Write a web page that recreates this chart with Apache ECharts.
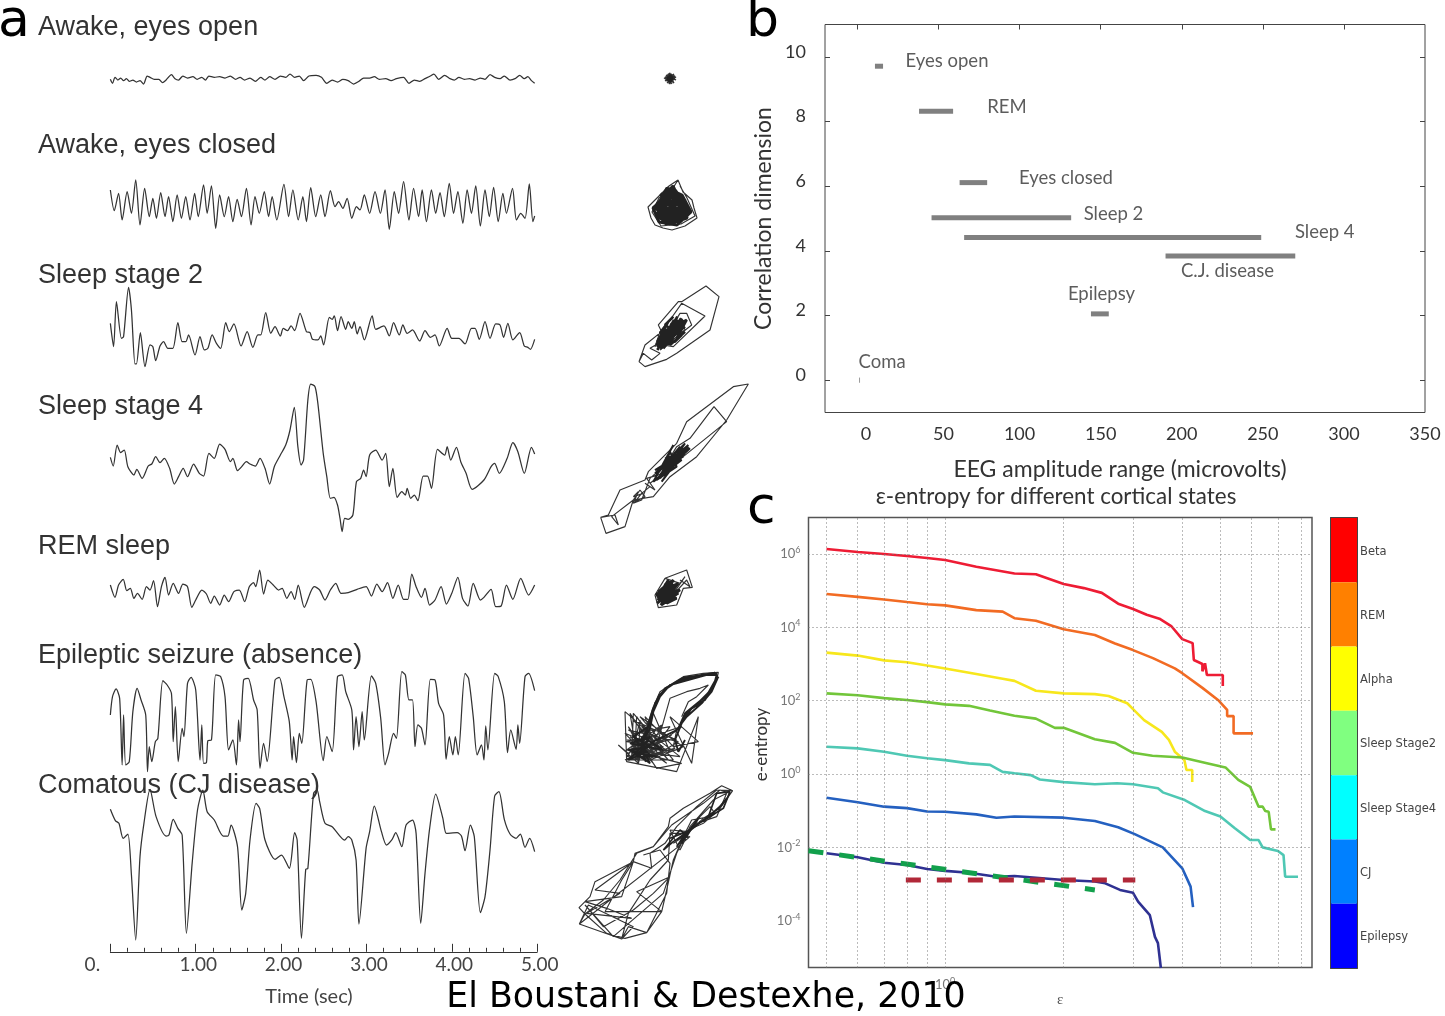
<!DOCTYPE html>
<html><head><meta charset="utf-8">
<style>html,body{margin:0;padding:0;background:#fff}#c{width:1445px;height:1016px}</style>
<script src="https://cdn.jsdelivr.net/npm/echarts@6/dist/echarts.min.js"></script>
</head><body><div id="c"></div>
<script>
// ---------- Panel a: EEG traces, flat lists of sample, amplitude (arbitrary units) ----------
const eyesOpenTrace=[309,238,315,250,322,232,330,240,338,234,346,242,354,236,362,244,372,240,382,246,392,242,402,252,412,228,420,232,432,238,445,238,455,248,465,240,480,224,490,236,500,240,512,228,525,234,540,230,552,238,565,232,575,240,585,228,600,232,615,230,630,234,645,228,660,238,672,232,685,240,700,234,715,244,730,232,742,240,755,230,770,238,785,228,800,232,812,222,825,232,838,228,850,242,865,228,885,226,900,232,915,250,930,240,945,246,960,238,975,242,990,252,1005,244,1018,234,1035,234,1048,230,1062,238,1080,236,1095,242,1110,236,1130,232,1145,250,1160,240,1175,244,1190,236,1205,228,1215,222,1228,238,1245,226,1260,236,1272,240,1285,232,1300,238,1315,236,1330,240,1345,234,1358,238,1372,224,1385,232,1400,236,1412,228,1428,240,1442,236,1455,226,1468,236,1478,230,1488,242,1497,250];
const eyesClosedTrace=[309,570,320,632,332,580,342,660,356,575,368,640,380,540,392,675,405,565,418,650,428,595,438,655,450,578,462,650,472,590,484,665,496,585,508,655,520,590,532,660,545,580,555,650,570,555,580,640,592,558,604,685,615,585,628,650,640,590,652,665,664,598,676,650,690,565,703,675,714,590,726,640,740,575,752,650,762,590,775,660,795,553,808,650,820,570,835,660,848,590,858,665,870,563,884,650,898,585,910,650,925,572,938,620,948,605,960,625,972,595,985,655,998,620,1008,630,1020,585,1035,640,1050,575,1065,640,1078,570,1090,688,1104,575,1116,640,1130,545,1145,660,1158,565,1172,650,1182,570,1194,665,1208,570,1220,640,1232,578,1244,650,1258,550,1270,640,1282,575,1296,670,1308,570,1320,640,1332,558,1345,678,1358,570,1370,650,1382,562,1395,665,1408,580,1418,640,1435,565,1446,660,1458,640,1470,655,1482,552,1492,665,1497,648];
const sleep2Trace=[309,190,318,260,326,125,340,235,346,230,360,82,368,150,378,312,382,312,393,218,406,320,420,255,428,260,436,302,448,258,458,245,470,265,484,265,498,188,510,245,520,245,528,225,546,285,560,230,572,270,582,265,594,225,606,250,618,265,632,188,642,215,655,192,675,258,692,215,708,262,722,225,730,225,744,158,758,220,770,200,785,228,793,205,805,212,815,198,825,212,840,160,858,215,868,218,875,238,890,240,898,228,906,255,922,172,930,178,936,168,945,212,955,170,968,208,975,185,985,205,992,185,1000,222,1008,200,1020,240,1042,168,1052,208,1075,198,1090,228,1102,188,1118,225,1128,195,1140,220,1155,210,1175,243,1190,212,1205,232,1218,225,1230,258,1252,205,1265,235,1285,235,1302,252,1320,205,1330,205,1342,238,1358,185,1372,235,1388,192,1400,195,1410,232,1422,190,1436,240,1455,218,1468,258,1478,262,1485,268,1497,238];
const sleep4Trace=[309,592,317,618,328,555,338,578,348,570,358,620,375,645,383,628,398,655,415,618,425,612,436,590,448,608,460,595,475,625,488,672,500,650,513,625,525,650,542,612,558,640,570,648,585,580,600,595,615,552,630,568,645,605,652,595,665,632,675,622,690,605,700,612,715,618,728,595,742,625,755,672,768,620,785,585,800,555,812,510,824,442,834,560,843,615,850,600,862,420,870,372,882,380,890,430,905,580,915,650,925,715,935,712,945,735,952,775,958,815,965,775,975,778,988,765,998,665,1010,655,1018,630,1025,650,1035,585,1052,570,1070,600,1080,580,1090,680,1100,625,1112,712,1125,695,1135,705,1140,685,1150,715,1160,705,1170,722,1185,648,1197,648,1208,685,1225,568,1245,585,1252,560,1262,600,1278,562,1290,605,1305,640,1322,688,1355,660,1375,620,1385,610,1398,640,1420,595,1436,548,1450,575,1468,640,1488,562,1497,582];
const remTrace=[309,195,322,232,332,195,345,178,355,212,365,205,375,235,385,220,398,238,410,200,420,210,430,182,441,260,452,200,462,172,472,225,485,190,500,220,512,192,525,200,537,262,548,240,565,210,578,222,590,250,600,228,615,255,628,225,640,245,655,215,670,210,685,245,698,200,710,188,716,200,727,150,738,222,750,180,765,195,780,210,790,205,803,235,815,215,825,238,835,195,852,262,870,215,880,200,895,210,910,240,925,210,940,190,955,220,975,218,1000,208,1025,200,1040,228,1055,192,1070,215,1085,188,1100,235,1115,195,1130,238,1142,238,1153,162,1165,200,1180,232,1190,205,1203,255,1218,240,1235,200,1250,252,1265,220,1282,172,1295,235,1310,258,1325,190,1345,240,1355,232,1375,208,1388,260,1403,258,1418,195,1436,238,1458,175,1480,225,1497,195];
const epilepsyTrace=[309,585,315,530,325,507,335,535,342,735,346,585,352,735,362,725,372,575,384,505,395,540,408,585,413,755,418,680,425,725,435,665,442,655,456,482,468,495,480,520,485,665,491,560,499,725,510,625,515,650,525,490,535,472,548,510,560,720,565,615,570,730,578,728,582,662,592,660,604,465,618,470,630,530,640,690,652,660,662,735,668,600,672,665,682,480,695,475,710,540,720,570,728,745,738,670,748,725,770,480,782,472,795,530,810,605,818,720,822,650,830,728,838,640,845,670,860,480,870,478,885,545,905,722,915,650,930,695,945,470,958,465,968,515,985,570,990,690,997,590,1005,680,1014,575,1020,660,1040,468,1052,490,1066,595,1078,735,1088,700,1102,640,1110,655,1125,455,1135,465,1145,540,1155,540,1162,680,1170,615,1180,625,1190,675,1205,478,1218,480,1228,550,1242,585,1249,718,1258,650,1268,705,1275,650,1283,705,1302,460,1312,475,1325,590,1336,705,1348,675,1355,720,1360,618,1366,690,1385,460,1395,470,1412,545,1421,698,1430,630,1445,688,1450,615,1455,670,1470,470,1480,460,1497,512];
const comaTrace=[309,148,323,182,333,190,345,235,358,222,368,345,380,540,392,290,403,190,420,88,437,170,465,228,473,225,485,178,498,205,510,225,522,520,538,310,553,150,568,90,580,155,600,180,625,228,638,228,647,195,665,260,677,450,688,400,700,240,717,130,727,145,742,240,770,298,788,285,810,325,825,218,832,240,844,535,856,328,862,325,878,100,888,90,895,125,910,190,930,200,965,240,975,230,985,240,997,300,1005,492,1025,265,1035,215,1048,138,1068,215,1082,255,1098,238,1108,218,1125,260,1137,195,1155,180,1165,220,1178,490,1190,340,1203,205,1220,102,1240,175,1250,220,1280,218,1292,228,1302,272,1317,195,1328,230,1345,458,1358,410,1372,270,1385,108,1397,95,1412,178,1428,222,1445,235,1457,222,1470,262,1483,235,1497,275];
const traceTitles=['Awake, eyes open','Awake, eyes closed','Sleep stage 2','Sleep stage 4','REM sleep','Epileptic seizure (absence)','Comatous (CJ disease)'];

// ---------- Panel a: phase portraits, flat lists of x, y (outer loops, then dense cores) ----------
const eyesOpenPhase=[3,6,9,2,6,10,11,5,4,9,8,3,12,7,5,4,10,10,2,7,7,1,9,9,3,3,11,8,6,5,13,5,4,11,8,7,2,5,10,3,7,12,5,2,12,4,3,9,9,6,6,1,11,11,4,6,8,10,1,6,10,6,5,8,7,4,13,8,3,5,9,12,6,7,11,2,2,9,8,5,4,3,10,8,5,10,12,6,3,7,8,2,6,12,11,4,4,8,9,4,7,9,5,6];
const eyesOpenCore=[4,5,9,8,5,9,10,5,6,4,8,10,4,7,10,7,7,3,6,9,9,4,5,6];
const eyesClosedPhase=[31,0,22,6,18,10,8,20,1,27,4,38,8,45,16,48,25,50,38,46,50,38,47,28,45,20,36,12,31,0,26,8,12,18,5,32,14,46,34,44,48,36,40,18,33,6];
const eyesClosedCore=[8,30,20,8,35,15,44,32,30,45,12,42,6,28,22,14,38,20,40,38,22,44,10,36,14,20,28,10,40,26,34,40,16,40,12,28,24,12,36,28,28,40,14,34,18,18,32,16,42,34,24,38,10,24,26,6,38,32,18,44,16,26,30,12,34,34,20,36,14,14,36,22,26,42,12,36,20,12,40,30,30,36,10,30,24,10,38,38,16,36,18,22,30,28,20,32,34,20,18,30,32,32,20,20,34,26,26,34,18,26,30,18,22,32,34,30,20,24];
const sleep2Phase=[207,275,225,290,290,268,320,250,420,180,447,80,408,48,335,95,325,95,265,165,275,185,225,225,207,275,220,250,245,270,270,250,240,235,262,222,310,230,405,138,335,100,300,150,270,185,255,230,290,165,300,220,330,145,345,180,280,215,320,155,270,240,365,165,350,130,330,130,305,170];
const sleep2Core=[262,232,325,150,280,222,340,160,268,210,318,175,295,225,335,145,272,236,305,160,290,212,345,170,258,225,310,195,330,165,285,200,322,140,275,228,300,175,340,150,265,218,315,185,290,190,328,155,280,235,305,205,335,175,270,205,320,165,295,180,262,240,312,150,285,215,342,158,275,195,325,180,300,200,268,228,330,150,300,225,345,185,320,205,350,150,270,190,295,155,262,215,315,215,335,195,285,165,310,140];
const sleep4Phase=[92,742,108,790,165,770,185,705,190,690,250,680,300,620,380,560,470,450,535,342,490,350,350,455,320,520,235,605,225,630,150,660,115,735,92,742,135,735,145,765,125,740,190,690,210,660,225,680,195,695,215,670,240,650,225,640,255,660,230,625,280,610,240,640,470,455,432,410,360,505,320,530,290,580,240,625,215,690,190,700,205,665,190,680,220,670];
const sleep4Core=[255,620,330,530,270,615,355,525,265,600,345,520,280,610,360,535,255,600,340,560,275,590,310,525,250,635,335,570,290,575,350,540,260,630,320,590,300,545,270,625,345,550,285,565,315,560,255,610,330,545,300,600,275,635,355,530,290,590];
const remPhase=[285,55,350,30,367,82,340,85,320,135,265,143,255,105,285,55,330,70,345,50,300,115,350,60,360,80,330,60];
const remCore=[262,120,320,75,272,135,330,90,258,105,310,60,280,125,325,100,265,95,300,65,290,130,320,115,270,110,315,85,262,130,300,80,285,70,310,120,275,90,325,70,290,115,268,125,305,100,280,85,318,105,275,135,295,60,262,112,312,95];
const epilepsyPhase=[230,500,250,440,270,395,300,375,340,350,400,340,445,337,440,360,420,400,390,430,360,450,340,480,320,510,310,560,385,545,300,470,365,610,385,470,320,635,170,605,165,455,240,520,175,580,145,555,205,610,180,460,235,545,170,540,320,540,190,480,295,600,215,500,330,590,170,570,260,505,200,600,250,460,300,575,175,510,325,545,225,605,275,495,185,560,305,525,165,600,240,570,335,500,210,540,290,610,180,530,265,590,225,470,315,565,195,595,245,530,170,545,280,560,215,580,335,610,260,625,190,520,300,500,230,590,175,600,270,540,210,470,340,560,240,600,172,540,300,540,172,570,320,570,172,600,310,600,190,460,185,590,210,480,205,610,235,500,228,600,175,500,250,610,165,520,260,560,200,470,195,560,225,520,170,590,255,575,300,415,350,395,390,385,415,375,380,410,355,425,335,470];
const epilepsyCore=[228,520,248,450,268,405,298,378,342,352,438,340,442,350,415,398,385,428,355,452,338,485,325,505,345,460,400,415,430,380,440,345,395,345,335,358,285,385,262,420,238,490,222,530,210,560,240,505,255,430,280,392,325,362,380,348,435,338,300,375,270,410,250,455,235,500,190,530,240,560,175,570,260,590,200,590,240,530,180,550,280,570,215,530,225,600,185,575,245,590,195,540,230,575,175,600,215,560,240,610,205,585,250,545,320,510,350,470,395,430,425,395,445,350,405,420,365,445,335,490,315,540,325,575,345,540];
const comaPhase=[488,692,455,677,420,700,340,745,300,775,295,800,250,860,195,880,190,905,75,965,60,1010,27,1043,45,1062,28,1092,155,1137,175,1100,230,1118,275,1055,290,990,310,900,340,830,400,775,450,745,488,692,440,690,380,740,320,800,285,850,240,880,245,925,190,905,155,1010,45,1025,110,1045,185,1075,50,1060,150,1000,75,990,190,905,155,960,105,1055,275,1055,200,995,300,950,250,1000,190,1050,100,1100,45,1035,130,1130,280,1000,320,880,360,800,430,720,470,700,440,770,380,790,340,830,310,850,355,815,300,810,330,870,350,830,390,770,420,740,435,760,400,790,355,810,320,840,360,830,325,860,28,1092,55,1035,190,1100,155,1137,175,1060,240,960,295,900,300,820,345,820,365,780,420,770,460,730,480,700,450,690,400,730,305,795,250,860,200,880,150,960,100,1020,45,1062,110,1120,165,1135,230,1118,290,1000,300,910,270,870,220,885];
const comaCore=[300,835,350,815,320,860,365,800,335,850,385,775,350,820,425,760,445,745,470,715,455,735,415,770,440,700,480,695,460,745,395,785,340,825,310,845,280,870,330,810,355,830];

// ---------- Panel b ----------
const rangeNames=['Eyes open','REM','Eyes closed','Sleep 2','Sleep 4','C.J. disease','Epilepsy'];
const rangeLow=[10.8,38,63,45.7,65.8,190,144];
const rangeHigh=[15.8,59,80,131.8,249,270,155];
const rangeDim=[9.71,8.32,6.11,5.02,4.41,3.84,2.05];
const comaMark=[[1.3,-0.08],[1.3,0.08]];
const noteNames=['Eyes open','REM','Eyes closed','Sleep 2','Sleep 4','C.J. disease','Epilepsy','Coma'];
const noteX=[29.3,79.7,99.3,139.2,269.5,199.2,129.5,0.4];
const noteY=[9.86,8.46,6.26,5.15,4.58,3.37,2.66,0.57];
const bXTicks=[0,50,100,150,200,250,300,350];
const bYTicks=[0,2,4,6,8,10];

// ---------- Panel c: eps, log10(entropy) ----------
const betaEps=[.5,.6,.7,.8,.9,1,1.2,1.5,1.7,2,2.25,2.5,2.75,3,3.25,3.5,3.75,4,4.25,4.28,4.5,4.5,4.57,4.62,5.07,5.07];
const betaLog=[6.136,6.055,6,5.945,5.89,5.836,5.654,5.47,5.45,5.18,5.07,4.94,4.645,4.5,4.345,4.236,4.036,3.68,3.57,3.11,3,2.8,3.02,2.7,2.7,2.4];
const remEps=[.5,.6,.7,.8,.9,1,1.2,1.4,1.5,1.7,2,2.4,2.7,3,3.37,3.83,4,4.5,4.93,5.2,5.2,5.4,5.4,6.05];
const remLog=[4.91,4.83,4.76,4.69,4.63,4.6,4.47,4.43,4.25,4.18,3.95,3.79,3.56,3.38,3.16,2.88,2.75,2.35,2.02,1.75,1.58,1.58,1.11,1.11];
const alphaEps=[.5,.6,.7,.8,.9,1,1.2,1.4,1.5,1.7,2,2.4,2.6,2.9,3,3.2,3.55,3.7,3.83,4.05,4.1,4.24,4.24];
const alphaLog=[3.31,3.23,3.1,3.05,2.96,2.88,2.73,2.6,2.54,2.27,2.2,2.18,2.13,1.93,1.77,1.47,1.15,.93,.61,.38,.11,.11,-.22];
const stage2Eps=[.5,.6,.7,.8,.9,1,1.15,1.3,1.5,1.7,1.9,2,2.4,2.7,3,3.36,4,4.65,5.15,5.55,5.95,6.25,6.4,6.5,6.63,6.72,6.9];
const stage2Log=[2.2,2.15,2.07,2.02,1.96,1.9,1.86,1.73,1.59,1.51,1.26,1.26,.95,.85,.58,.5,.45,.29,.18,-.16,-.35,-.89,-.89,-1.01,-1.03,-1.51,-1.51];
const stage4Eps=[.5,.6,.7,.8,.9,1,1.15,1.3,1.4,1.5,1.65,1.74,2,2.4,2.73,3,3.47,3.57,4.06,4.57,5,5.44,5.95,6.25,6.4,7,7.23,7.3,7.87];
const stage4Log=[.745,.7,.61,.5,.43,.38,.29,.25,.06,.02,-.03,-.15,-.22,-.28,-.25,-.28,-.39,-.5,-.71,-1.01,-1.16,-1.48,-1.8,-1.8,-2,-2.1,-2.21,-2.8,-2.8];
const cjEps=[.5,.6,.7,.8,.9,1,1.2,1.35,1.5,2,2.4,2.75,3.03,3.57,4,4.2,4.26];
const cjLog=[-.645,-.77,-.89,-.93,-1.02,-1.03,-1.1,-1.19,-1.16,-1.19,-1.28,-1.45,-1.64,-2,-2.57,-3.07,-3.63];
const epiEps=[.5,.6,.7,.8,.9,1,1.15,1.35,1.5,2,2.4,2.55,2.78,3,3.09,3.31,3.41,3.47,3.53];
const epiLog=[-2.16,-2.27,-2.42,-2.48,-2.59,-2.64,-2.69,-2.8,-2.78,-2.89,-2.93,-2.98,-3.16,-3.24,-3.48,-3.85,-4.44,-4.61,-5.29];
const greenFitEps=[.45,2.4];
const greenFitLog=[-2.09,-3.16];
const redFitEps=[.795,3.04];
const redFitLog=[-2.89,-2.89];
const xGridValues=[.5,.6,.7,.8,.9,1,2,3,4,5,6,7,8];
const yGridValues=[1e-4,1e-2,1,1e2,1e4,1e6];
const stateNames=['Beta','REM','Alpha','Sleep Stage2','Sleep Stage4','CJ','Epilepsy'];
const stateColors=['#ff0000','#ff8000','#ffff00','#80ff80','#00ffff','#0080ff','#0000ff'];

// ---------- helpers ----------
const pairs=f=>{const o=[];for(let i=0;i<f.length;i+=2)o.push([f[i],f[i+1]]);return o;};
const grids=[],xAxes=[],yAxes=[],series=[];
const GF="Lato, 'Open Sans', sans-serif";
function addTrace(flat,top,height,yMin,yMax,xExtra){
  const g=grids.length;
  grids.push({left:110.36,width:426.8,top,height});
  xAxes.push(Object.assign({gridIndex:g,type:'value',min:0,max:5,show:false},xExtra||{}));
  yAxes.push({gridIndex:g,type:'value',min:yMin,max:yMax,inverse:true,show:false});
  series.push({type:'line',xAxisIndex:g,yAxisIndex:g,symbol:'none',clip:false,smooth:0.25,
    lineStyle:{color:'#333',width:1.25},data:pairs(flat).map(p=>[(p[0]-309)/239,p[1]])});
}
function addPhase(flat,core,coreWidth,left,top,width,height,x0,x1,y0,y1){
  const g=grids.length;
  grids.push({left,top,width,height});
  xAxes.push({gridIndex:g,type:'value',min:x0,max:x1,show:false});
  yAxes.push({gridIndex:g,type:'value',min:y0,max:y1,inverse:true,show:false});
  series.push({type:'line',xAxisIndex:g,yAxisIndex:g,symbol:'none',clip:false,
    lineStyle:{color:'#333',width:1.15},data:pairs(flat)});
  series.push({type:'line',xAxisIndex:g,yAxisIndex:g,symbol:'none',clip:false,
    lineStyle:{color:'#222',width:coreWidth},data:pairs(core)});
}
addTrace(eyesOpenTrace,66.67,23.33,200,270);
addTrace(eyesClosedTrace,173.33,60,520,700);
addTrace(sleep2Trace,280,93.33,60,340);
addTrace(sleep4Trace,376.67,160,350,830);
addTrace(remTrace,566.67,43.33,140,270);
addTrace(epilepsyTrace,668.33,106.67,445,765);
addTrace(comaTrace,760,191.8,0,575.4,{show:true,position:'bottom',interval:1,
  axisLine:{show:true,onZero:false,lineStyle:{color:'#333',width:1}},
  axisTick:{show:true,inside:true,length:8,lineStyle:{color:'#333'}},
  minorTick:{show:true,splitNumber:5,length:4,lineStyle:{color:'#333'}},
  splitLine:{show:false},
  axisLabel:{margin:4,color:'#444',fontFamily:GF,fontSize:19,showMinLabel:true,showMaxLabel:true,
    formatter:v=>v===0?'{z|0.}':'{t|'+v.toFixed(2)+'}',
    rich:{z:{color:'#444',fontFamily:GF,fontSize:19,padding:[0,36,0,0]},t:{color:'#444',fontFamily:GF,fontSize:19,padding:[0,0,0,5]}}}});
addPhase(eyesOpenPhase,eyesOpenCore,1.6,663,72,14,14,0,14,0,14);
addPhase(eyesClosedPhase,eyesClosedCore,3,647,180,52,51,0,52,0,51);
addPhase(sleep2Phase,sleep2Core,2.6,636.67,283.33,85,86.67,200,455,40,300);
addPhase(sleep4Phase,sleep4Core,2,598.33,381.67,151.67,153.33,85,540,335,795);
addPhase(remPhase,remCore,2.6,651.67,566.67,42.33,43.33,245,372,20,150);
addPhase(epilepsyPhase,epilepsyCore,1.9,616.67,670,103.33,103.33,140,450,330,640);
addPhase(comaPhase,comaCore,1.7,576.67,783.33,158.33,156.67,20,495,670,1140);

// Panel b
const gb=grids.length;
grids.push({left:825,width:600,top:24.5,height:388,show:true,borderColor:'#444',borderWidth:1,backgroundColor:'transparent'});
const bXBase={gridIndex:gb,type:'value',min:-20,max:350,interval:50};
const ticksIn={show:true,inside:true,length:5,lineStyle:{color:'#444'}};
const hiddenLine={show:false,onZero:false};
xAxes.push(Object.assign({},bXBase,{position:'bottom',
  axisLine:hiddenLine,axisTick:{show:false},splitLine:{show:false},
  axisLabel:{show:true,margin:13,color:'#333',fontFamily:GF,fontSize:18,
    customValues:bXTicks,
    formatter:v=>v===0?'{p0|0}':v===50?'{p1|50}':String(v),
    rich:{p0:{fontFamily:GF,fontSize:18,color:'#333',padding:[0,0,0,17]},p1:{fontFamily:GF,fontSize:18,color:'#333',padding:[0,0,0,10]}}},
  name:'EEG amplitude range (microvolts)',nameLocation:'middle',nameGap:46,
  nameTextStyle:{fontFamily:GF,fontSize:23,color:'#333',padding:[0,10,0,0]}}));
xAxes.push(Object.assign({},bXBase,{position:'top',axisLine:hiddenLine,axisLabel:{show:false},splitLine:{show:false},
  axisTick:Object.assign({},ticksIn,{customValues:[0,50,100,150,200,250,300]})}));
const gby=yAxes.length;
yAxes.push({gridIndex:gb,type:'value',min:-1,max:11,position:'left',axisLine:hiddenLine,splitLine:{show:false},
  axisTick:Object.assign({},ticksIn,{customValues:bYTicks}),
  axisLabel:{show:true,customValues:bYTicks,margin:19,color:'#333',fontFamily:GF,fontSize:18,
    formatter:v=>'{y|'+v+'}',rich:{y:{fontFamily:GF,fontSize:18,color:'#333',padding:[0,0,10,0]}}},
  name:'Correlation dimension',nameLocation:'middle',nameGap:50,
  nameTextStyle:{fontFamily:GF,fontSize:23,color:'#333'}});
yAxes.push({gridIndex:gb,type:'value',min:-1,max:11,position:'right',axisLine:hiddenLine,splitLine:{show:false},
  axisLabel:{show:false},axisTick:Object.assign({},ticksIn,{customValues:bYTicks})});
const gbx=gb; // first x axis of panel b shares the grid's index position
rangeNames.forEach((n,i)=>series.push({type:'line',name:n,xAxisIndex:gbx,yAxisIndex:gby,symbol:'none',
  lineStyle:{color:'#808080',width:5,cap:'butt'},data:[[rangeLow[i],rangeDim[i]],[rangeHigh[i],rangeDim[i]]]}));
series.push({type:'line',name:'Coma',xAxisIndex:gbx,yAxisIndex:gby,symbol:'none',lineStyle:{color:'#999',width:1},data:comaMark});
series.push({type:'scatter',xAxisIndex:gbx,yAxisIndex:gby,symbolSize:1,itemStyle:{color:'transparent'},
  data:noteNames.map((n,i)=>({value:[noteX[i],noteY[i]],name:n})),
  label:{show:true,position:'right',distance:0,formatter:p=>p.name,fontFamily:GF,fontSize:18.5,color:'#333'}});

// Panel c
const gc=grids.length;
grids.push({left:808.5,width:503.5,top:517.5,height:450,show:true,borderColor:'#555',borderWidth:1.5,backgroundColor:'transparent'});
const gcx=xAxes.length;
const gray='#777';
xAxes.push({gridIndex:gc,type:'log',logBase:10,min:0.45,max:8.54,axisLine:{show:false,onZero:false},axisTick:{show:false},minorTick:{show:false},splitLine:{show:false},minorSplitLine:{show:false},
  axisLabel:{margin:9,showMinLabel:false,showMaxLabel:false,formatter:v=>Math.abs(v-1)<1e-6?'10{s|0}':'',color:gray,fontFamily:GF,fontSize:13,rich:{s:{fontSize:9,color:gray,padding:[0,0,8,0],fontFamily:GF}}},
  name:'ε',nameLocation:'middle',nameGap:25,nameTextStyle:{fontFamily:"'Liberation Serif',serif",fontSize:15,color:'#555'}});
const gcy=yAxes.length;
yAxes.push({gridIndex:gc,type:'log',logBase:100,min:5.3e-6,max:9.9e6,axisLine:{show:false,onZero:false},axisTick:{show:false},minorTick:{show:false},splitLine:{show:false},minorSplitLine:{show:false},
  axisLabel:{margin:8,color:gray,fontFamily:GF,fontSize:13,showMinLabel:false,showMaxLabel:false,
    formatter:v=>{const e=Math.round(Math.log10(v));return Math.abs(Math.log10(v)-e)<1e-6&&e%2===0?'10{s|'+e+'}':'';},
    rich:{s:{fontSize:9,color:gray,padding:[0,0,8,0],fontFamily:GF}}},
  name:'e-entropy',nameLocation:'middle',nameGap:38,nameTextStyle:{fontFamily:GF,fontSize:17,color:'#333',padding:[0,4,0,0]}});
const dotStyle={color:'#777',type:[1,3],width:1};
series.push({type:'line',xAxisIndex:gcx,yAxisIndex:gcy,symbol:'none',lineStyle:{opacity:0},data:[],
  markLine:{silent:true,symbol:'none',label:{show:false},lineStyle:dotStyle,
    data:xGridValues.map(v=>({xAxis:v})).concat(yGridValues.map(v=>({yAxis:v})))}});
const curve=(eps,lg,color)=>series.push({type:'line',xAxisIndex:gcx,yAxisIndex:gcy,symbol:'none',z:3,
  lineStyle:{color,width:2.6},data:eps.map((e,i)=>[e,Math.pow(10,lg[i])])});
curve(betaEps,betaLog,'#ee1c34');
curve(remEps,remLog,'#f26b23');
curve(alphaEps,alphaLog,'#f7e71c');
curve(stage2Eps,stage2Log,'#72c63a');
curve(stage4Eps,stage4Log,'#4fc8b4');
curve(cjEps,cjLog,'#2460c0');
curve(epiEps,epiLog,'#2f3192');
const fit=(eps,lg,color)=>series.push({type:'line',xAxisIndex:gcx,yAxisIndex:gcy,symbol:'none',z:4,
  lineStyle:{color,width:5,type:[15,16],cap:'butt'},data:eps.map((e,i)=>[e,Math.pow(10,lg[i])])});
fit(greenFitEps,greenFitLog,'#12a04c');
fit(redFitEps,redFitLog,'#b12838');

// Colour bar
const gk=grids.length;
grids.push({left:1331,width:26,top:518,height:450});
const gkx=xAxes.length;
const frame={show:true,onZero:false,lineStyle:{color:'#444',width:2}};
xAxes.push({gridIndex:gk,type:'value',min:0,max:1,position:'bottom',axisLine:frame,axisTick:{show:false},axisLabel:{show:false},splitLine:{show:false}});
xAxes.push({gridIndex:gk,type:'value',min:0,max:1,position:'top',axisLine:frame,axisTick:{show:false},axisLabel:{show:false},splitLine:{show:false}});
const gky=yAxes.length;
const kTick={show:true,inside:true,length:4,alignWithLabel:true,lineStyle:{color:'#333',width:1}};
const KF="'DejaVu Sans',sans-serif";
yAxes.push({gridIndex:gk,type:'category',inverse:true,data:stateNames,position:'right',axisLine:frame,axisTick:kTick,splitLine:{show:false},
  axisLabel:{margin:3,color:'#444',fontFamily:KF,fontSize:11.5,align:'left',formatter:v=>'{l|'+v+'}',
    rich:{l:{fontFamily:KF,fontSize:11.5,color:'#444',padding:[3,0,0,0]}}}});
yAxes.push({gridIndex:gk,type:'category',inverse:true,data:stateNames,position:'left',axisLine:frame,axisTick:kTick,axisLabel:{show:false},splitLine:{show:false}});
series.push({type:'bar',xAxisIndex:gkx,yAxisIndex:gky,barWidth:'100%',
  data:stateColors.map(c=>({value:1,itemStyle:{color:c}}))});

// Free text
const centered=(text,x,y,font,fill,align)=>({type:'text',x,y,z:20,silent:true,
  style:{text,font,fill,textAlign:align||'left',textVerticalAlign:'middle'}});
const titleY=[28,146,276,407,547,656,786];
const graphic=traceTitles.map((t,i)=>centered(t,38,titleY[i],"27px 'Liberation Sans',sans-serif",'#333'));
graphic.push(centered('a',-2,22,"52px 'DejaVu Sans',sans-serif",'#000'));
graphic.push(centered('b',746,22,"52px 'DejaVu Sans',sans-serif",'#000'));
graphic.push(centered('c',747,509,"52px 'DejaVu Sans',sans-serif",'#000'));
graphic.push(centered('Time (sec)',309,997,"20px "+GF,'#444','center'));
graphic.push(centered('ε-entropy for different cortical states',1056,497,"22.4px "+GF,'#333','center'));
graphic.push(centered('El Boustani & Destexhe, 2010',706,998,"34.8px 'DejaVu Sans',sans-serif",'#000','center'));

const chart=echarts.init(document.getElementById('c'),null,{renderer:'canvas'});
chart.setOption({animation:false,backgroundColor:'#fff',grid:grids,xAxis:xAxes,yAxis:yAxes,series,graphic:{elements:graphic}});
</script></body></html>
